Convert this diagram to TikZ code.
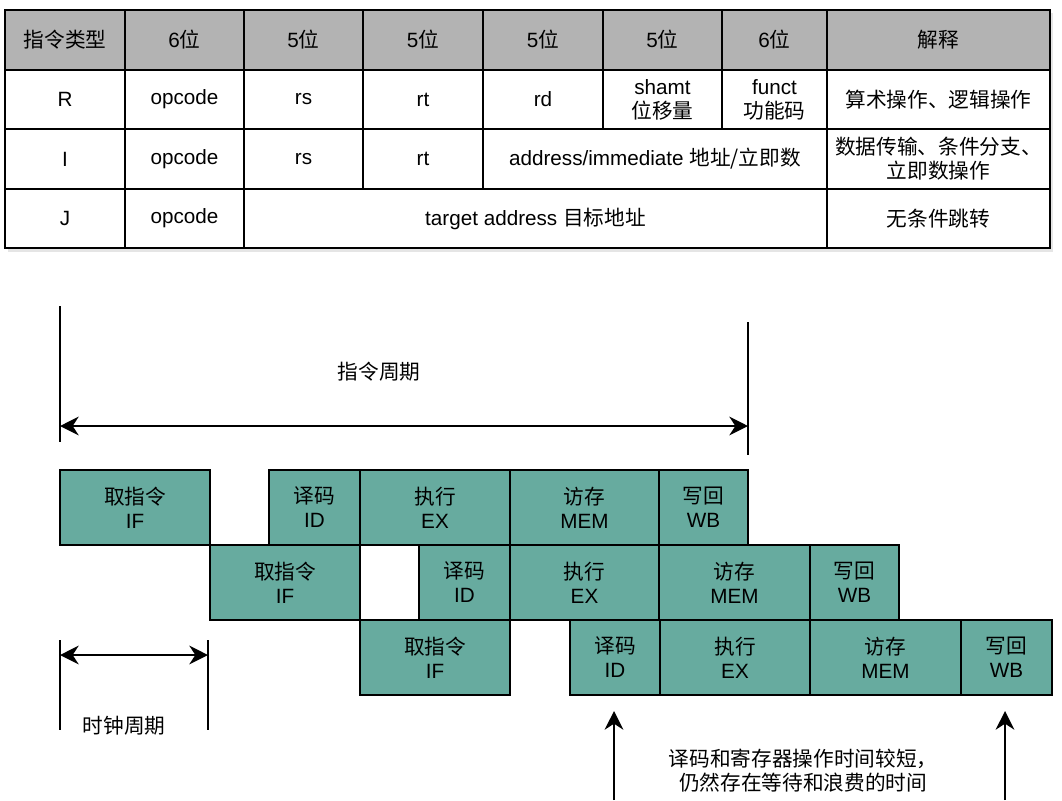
\documentclass[tikz,border=0pt]{standalone}
\usepackage{fontspec}
\setmainfont{Liberation Sans}
\newfontfamily\cjk{Noto Sans CJK SC}
\usetikzlibrary{arrows.meta}
\definecolor{tealstage}{HTML}{67AB9F}
\definecolor{hdrgray}{HTML}{B3B3B3}
\newcommand{\cellnode}[7]{%
  \pgfmathsetmacro\cellw{(#4-#2)*0.75}%
  \pgfmathsetmacro\cellh{(#5-#3)*0.75}%
  \node[#1, minimum width=\cellw pt, minimum height=\cellh pt] (#6) at ({(#2+#4)/2},{(#3+#5)/2}) {#7};%
}
\begin{document}
\begin{tikzpicture}[x=0.75pt,y=-0.75pt,
  every node/.style={font=\fontsize{15.5}{18}\selectfont},
  cellbase/.style={draw=black, line width=2pt, inner sep=0pt, outer sep=0pt, align=center},
  hdrcell/.style={cellbase, fill=hdrgray},
  tcell/.style={cellbase, fill=white},
  stagebox/.style={cellbase, fill=tealstage},
  tick/.style={line width=2.1pt, line cap=butt},
  dimarrow/.style={line width=1.6pt, {Stealth[length=14pt,width=14pt,inset=4.5pt]}-{Stealth[length=14pt,width=14pt,inset=4.5pt]}},
  uparrow/.style={line width=1.6pt, -{Stealth[length=14pt,width=14pt,inset=4.5pt]}},
  lbl/.style={inner sep=0pt, align=center}]
\useasboundingbox (0,0) rectangle (1062,800);
\fill[white] (0,0) rectangle (1062,800);
% table shadow
\fill[black!10] (8,13) rectangle (1053,252);
% header row
\cellnode{hdrcell}{5}{10}{125}{70}{h1}{\cjk 指令类型}
\cellnode{hdrcell}{125}{10}{244}{70}{h2}{6{\cjk 位}}
\cellnode{hdrcell}{244}{10}{363}{70}{h3}{5{\cjk 位}}
\cellnode{hdrcell}{363}{10}{483}{70}{h4}{5{\cjk 位}}
\cellnode{hdrcell}{483}{10}{603}{70}{h5}{5{\cjk 位}}
\cellnode{hdrcell}{603}{10}{722}{70}{h6}{5{\cjk 位}}
\cellnode{hdrcell}{722}{10}{827}{70}{h7}{6{\cjk 位}}
\cellnode{hdrcell}{827}{10}{1050}{70}{h8}{\cjk 解释}
% R row
\cellnode{tcell}{5}{70}{125}{129}{r1}{R}
\cellnode{tcell}{125}{70}{244}{129}{r2}{opcode}
\cellnode{tcell}{244}{70}{363}{129}{r3}{rs}
\cellnode{tcell}{363}{70}{483}{129}{r4}{rt}
\cellnode{tcell}{483}{70}{603}{129}{r5}{rd}
\cellnode{tcell}{603}{70}{722}{129}{r6}{shamt\\{\cjk 位移量}}
\cellnode{tcell}{722}{70}{827}{129}{r7}{funct\\{\cjk 功能码}}
\cellnode{tcell}{827}{70}{1050}{129}{r8}{\cjk 算术操作、逻辑操作}
% I row
\cellnode{tcell}{5}{129}{125}{189}{i1}{I}
\cellnode{tcell}{125}{129}{244}{189}{i2}{opcode}
\cellnode{tcell}{244}{129}{363}{189}{i3}{rs}
\cellnode{tcell}{363}{129}{483}{189}{i4}{rt}
\cellnode{tcell}{483}{129}{827}{189}{i5}{address/immediate {\cjk 地址/立即数}}
\cellnode{tcell}{827}{129}{1050}{189}{i6}{{\cjk 数据传输、条件分支、}\\{\cjk 立即数操作}}
% J row
\cellnode{tcell}{5}{189}{125}{248}{j1}{J}
\cellnode{tcell}{125}{189}{244}{248}{j2}{opcode}
\cellnode{tcell}{244}{189}{827}{248}{j3}{target address {\cjk 目标地址}}
\cellnode{tcell}{827}{189}{1050}{248}{j4}{\cjk 无条件跳转}
% instruction cycle
\coordinate (icTL) at (60,306);
\coordinate (icBL) at (60,442);
\coordinate (icTR) at (748,322);
\coordinate (icBR) at (748,455);
\coordinate (icA) at (60,426);
\coordinate (icB) at (748,426);
\draw[tick] (icTL) -- (icBL);
\draw[tick] (icTR) -- (icBR);
\draw[dimarrow] (icA) -- (icB);
\node[lbl] (iclabel) at (379,372) {\cjk 指令周期};
% pipeline row 1
\cellnode{stagebox}{60}{470}{210}{545}{a1}{{\cjk 取指令}\\IF}
\cellnode{stagebox}{269}{470}{360}{545}{a2}{{\cjk 译码}\\ID}
\cellnode{stagebox}{360}{470}{510}{545}{a3}{{\cjk 执行}\\EX}
\cellnode{stagebox}{510}{470}{659}{545}{a4}{{\cjk 访存}\\MEM}
\cellnode{stagebox}{659}{470}{748}{545}{a5}{{\cjk 写回}\\WB}
% pipeline row 2
\cellnode{stagebox}{210}{545}{360}{620}{b1}{{\cjk 取指令}\\IF}
\cellnode{stagebox}{419}{545}{510}{620}{b2}{{\cjk 译码}\\ID}
\cellnode{stagebox}{510}{545}{659}{620}{b3}{{\cjk 执行}\\EX}
\cellnode{stagebox}{659}{545}{810}{620}{b4}{{\cjk 访存}\\MEM}
\cellnode{stagebox}{810}{545}{899}{620}{b5}{{\cjk 写回}\\WB}
% pipeline row 3
\cellnode{stagebox}{360}{620}{510}{695}{c1}{{\cjk 取指令}\\IF}
\cellnode{stagebox}{570}{620}{660}{695}{c2}{{\cjk 译码}\\ID}
\cellnode{stagebox}{660}{620}{810}{695}{c3}{{\cjk 执行}\\EX}
\cellnode{stagebox}{810}{620}{961}{695}{c4}{{\cjk 访存}\\MEM}
\cellnode{stagebox}{961}{620}{1052}{695}{c5}{{\cjk 写回}\\WB}
% clock cycle
\coordinate (ccTL) at (60,640);
\coordinate (ccBL) at (60,730);
\coordinate (ccTR) at (208,640);
\coordinate (ccBR) at (208,730);
\coordinate (ccA) at (60,655);
\coordinate (ccB) at (208,655);
\draw[tick] (ccTL) -- (ccBL);
\draw[tick] (ccTR) -- (ccBR);
\draw[dimarrow] (ccA) -- (ccB);
\node[lbl] (cclabel) at (124,726) {\cjk 时钟周期};
% note arrows
\coordinate (upA) at (614,800);
\coordinate (upAtip) at (614,711);
\coordinate (upB) at (1005,800);
\coordinate (upBtip) at (1005,711);
\draw[uparrow] (upA) -- (upAtip);
\draw[uparrow] (upB) -- (upBtip);
\node[lbl, font=\fontsize{15.5}{18}\selectfont\cjk] (note) at (803,771) {译码和寄存器操作时间较短，\\仍然存在等待和浪费的时间};
\end{tikzpicture}
\end{document}
